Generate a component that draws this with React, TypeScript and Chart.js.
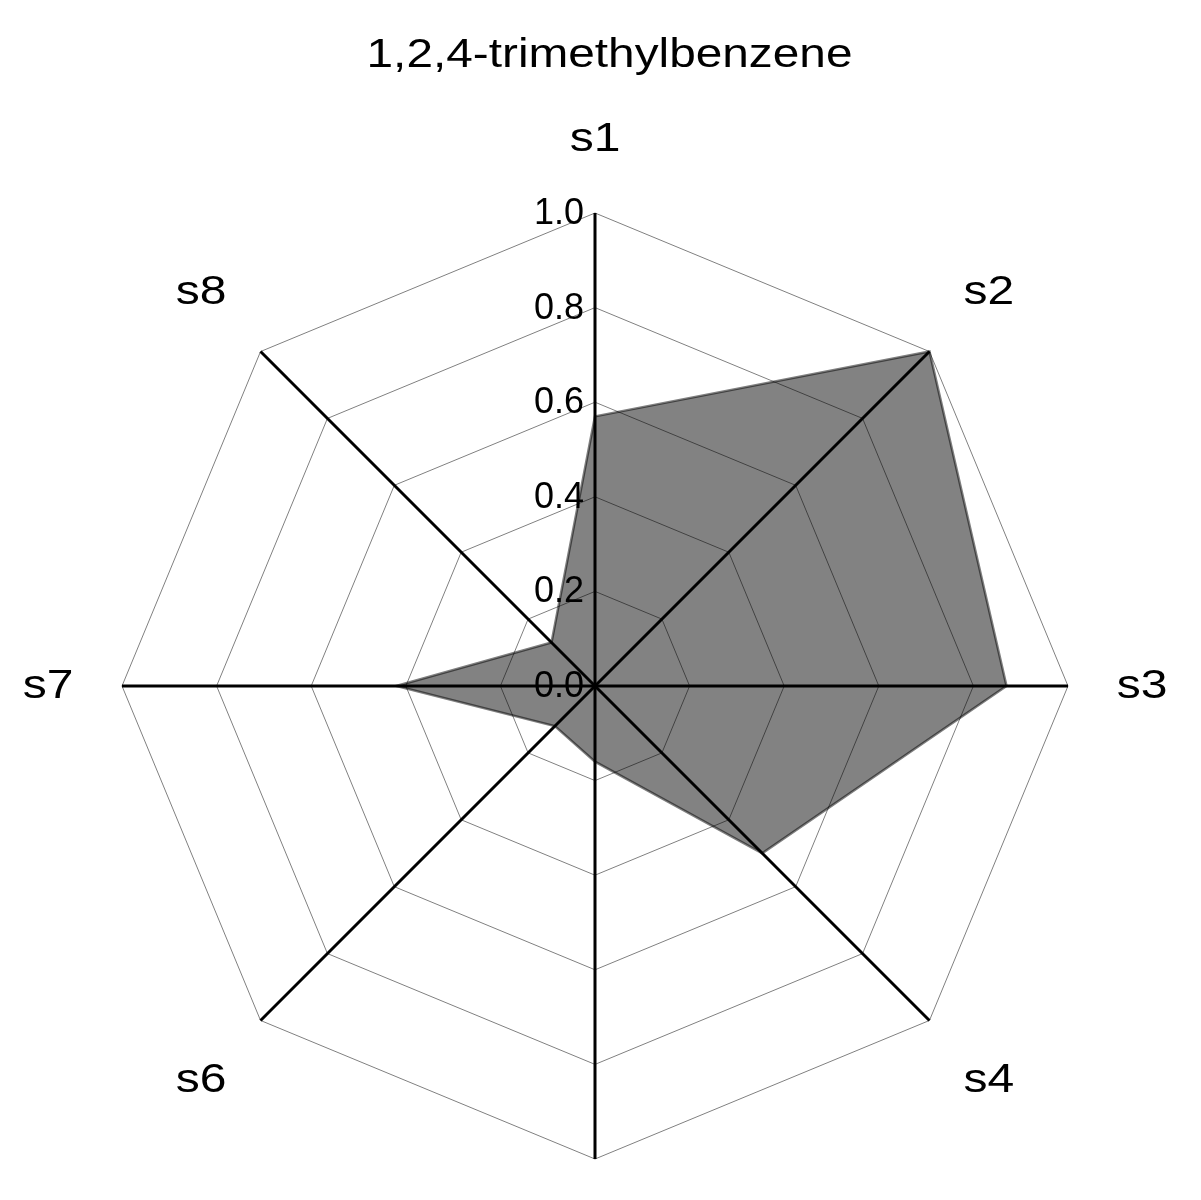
import React, { useEffect, useRef } from "react";
import { Chart, registerables } from "chart.js";

Chart.register(...registerables);

const chartTitle = "1,2,4-trimethylbenzene";
const categories = ["s1", "s2", "s3", "s4", "s5", "s6", "s7", "s8"];
const hiddenLabels = ["s5"];
const seriesValues = [0.57, 1.0, 0.87, 0.5, 0.16, 0.12, 0.42, 0.13];
const tickValues = [0.0, 0.2, 0.4, 0.6, 0.8, 1.0];
const tickLabels = ["0.0", "0.2", "0.4", "0.6", "0.8", "1.0"];

const FONT = "'Liberation Sans', Arial, sans-serif";

function drawStretched(ctx: CanvasRenderingContext2D, text: string, x: number, y: number, size: number, sx: number) {
  ctx.save();
  ctx.font = `${size}px ${FONT}`;
  ctx.fillStyle = "#000";
  ctx.textAlign = "center";
  ctx.textBaseline = "middle";
  ctx.translate(x, y);
  ctx.scale(sx, 1);
  ctx.fillText(text, 0, 0);
  ctx.restore();
}

export default function App() {
  const ref = useRef<HTMLCanvasElement | null>(null);

  useEffect(() => {
    if (!ref.current) return;
    const textPlugin = {
      id: "customText",
      afterDatasetsDraw(chart: any) {
        const scale = chart.scales.r;
        const ctx = chart.ctx as CanvasRenderingContext2D;
        // title
        drawStretched(ctx, chartTitle, 609.5, 56, 41, 1.165);
        // point labels
        categories.forEach((label, i) => {
          if (hiddenLabels.includes(label)) return;
          const offset = i % 2 === 0 ? 74 : 84;
          const p = scale.getPointPosition(i, scale.drawingArea + offset);
          drawStretched(ctx, label, p.x, p.y + 1, 40, 1.2);
        });
        // tick labels
        ctx.save();
        ctx.font = `36px ${FONT}`;
        ctx.fillStyle = "#000";
        ctx.textAlign = "right";
        ctx.textBaseline = "middle";
        tickValues.forEach((v, i) => {
          const d = scale.getDistanceFromCenterForValue(v);
          ctx.fillText(tickLabels[i], scale.xCenter - 11, scale.yCenter - d + 1);
        });
        ctx.restore();
      },
    };
    const chart = new Chart(ref.current, {
      type: "radar",
      data: {
        labels: categories,
        datasets: [
          {
            data: seriesValues,
            backgroundColor: "rgba(0,0,0,0.49)",
            borderColor: "rgba(0,0,0,0.5)",
            borderWidth: 2.5,
            pointRadius: 0,
            fill: true,
          },
        ],
      },
      options: {
        responsive: false,
        animation: false,
        layout: { padding: { top: 213, bottom: 41, right: 11, left: 0 } },
        plugins: {
          legend: { display: false },
          title: { display: false },
          tooltip: { enabled: false },
        },
        scales: {
          r: {
            min: 0,
            max: 1,
            ticks: { display: false, stepSize: 0.2 },
            grid: { color: "#808080", lineWidth: 1, circular: false },
            angleLines: { color: "#000", lineWidth: 3 },
            pointLabels: { display: false },
          },
        },
      },
      plugins: [textPlugin],
    });
    return () => chart.destroy();
  }, []);

  return (
    <div style={{ position: "absolute", left: 0, top: 0, width: 1201, height: 1200, background: "#fff" }}>
      <canvas ref={ref} width={1201} height={1200} />
    </div>
  );
}
